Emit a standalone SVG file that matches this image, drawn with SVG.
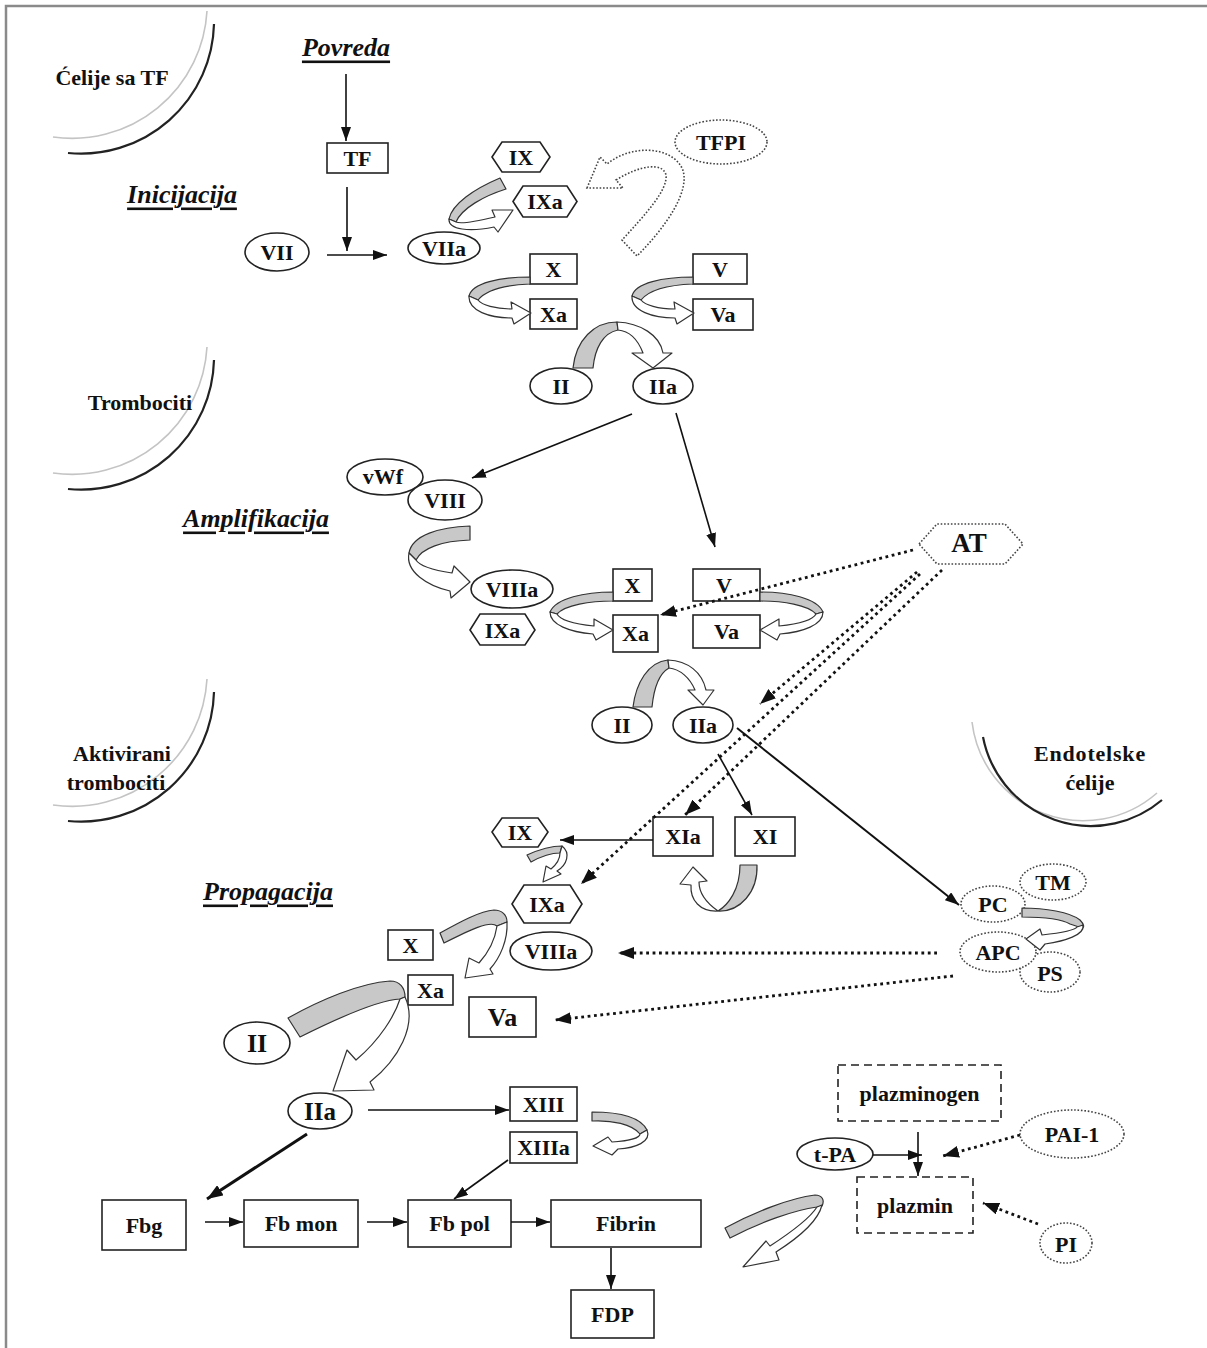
<svg xmlns="http://www.w3.org/2000/svg" width="1207" height="1348" viewBox="0 0 1207 1348">
<defs>
<style>
.t{font-family:"Liberation Serif","Times New Roman",serif;font-weight:bold;font-size:22px;fill:#111;text-anchor:middle;dominant-baseline:central}
.h{font-style:italic;font-size:26px;text-decoration:underline}
.box{fill:#fff;stroke:#222;stroke-width:1.6}
.dotn{fill:#fff;stroke:#444;stroke-width:1.6;stroke-dasharray:1.6 1.8}
.dash{fill:#fff;stroke:#222;stroke-width:1.6;stroke-dasharray:8 5}
.ln{stroke:#111;stroke-width:1.6;fill:none}
.dl{stroke:#111;stroke-width:2.8;stroke-dasharray:2.8 3.6;fill:none}
.rg{fill:#c8c8c8;stroke:#333;stroke-width:1.2;stroke-linejoin:round}
.rw{fill:#fff;stroke:#333;stroke-width:1.2;stroke-linejoin:round}
.arcL{fill:none;stroke:#c4c4c4;stroke-width:1.6}
.arcD{fill:none;stroke:#222;stroke-width:2.2}
</style>
<marker id="ah" viewBox="0 0 14 10" refX="14" refY="5" markerWidth="14" markerHeight="10" markerUnits="userSpaceOnUse" orient="auto"><path d="M0,0 L14,5 L0,10 Z" fill="#111"/></marker>
<marker id="ahd" viewBox="0 0 16 12" refX="16" refY="6" markerWidth="16" markerHeight="12" markerUnits="userSpaceOnUse" orient="auto"><path d="M0,0 L16,6 L0,12 Z" fill="#111"/></marker>
</defs>
<rect width="1207" height="1348" fill="#fff"/>
<g id="frame"><path d="M6,1348 V6 H1207" fill="none" stroke="#8a8a8a" stroke-width="2.5"/></g>

<g id="cells">
 <g id="cell-tf">
  <path class="arcL" d="M207,11 A135,135 0 0 1 53,137"/>
  <path class="arcD" d="M214,24 A133,133 0 0 1 68,153"/>
  <text class="t" x="112" y="77">Ćelije sa TF</text>
 </g>
 <g id="cell-trombociti">
  <path class="arcL" d="M207,347 A135,135 0 0 1 53,473"/>
  <path class="arcD" d="M214,360 A133,133 0 0 1 68,489"/>
  <text class="t" x="140" y="402">Trombociti</text>
 </g>
 <g id="cell-aktivirani">
  <path class="arcL" d="M207,679 A135,135 0 0 1 53,805"/>
  <path class="arcD" d="M214,692 A133,133 0 0 1 68,821"/>
  <text class="t" x="122" y="753">Aktivirani</text>
  <text class="t" x="116" y="782">trombociti</text>
 </g>
 <g id="cell-endotel">
  <path class="arcL" d="M972,722 A112,112 0 0 0 1157,793"/>
  <path class="arcD" d="M983,737 A110,110 0 0 0 1162,800"/>
  <text class="t" x="1090" y="753" style="letter-spacing:0.8px">Endotelske</text>
  <text class="t" x="1090" y="782">ćelije</text>
 </g>
</g>

<g id="headings">
 <text class="t h" x="346" y="47">Povreda</text>
 <text class="t h" x="182" y="194">Inicijacija</text>
 <text class="t h" x="256" y="518">Amplifikacija</text>
 <text class="t h" x="268" y="891">Propagacija</text>
</g>

<g id="nodes">
 <g id="n-TF"><rect class="box" x="327" y="143" width="61" height="30"/><text class="t" x="357.5" y="158">TF</text></g>
 <g id="n-VII"><ellipse class="box" cx="277" cy="252" rx="32" ry="19"/><text class="t" x="277" y="252">VII</text></g>
 <g id="n-VIIa"><ellipse class="box" cx="444" cy="248" rx="36" ry="16"/><text class="t" x="444" y="248">VIIa</text></g>
 <g id="n-IX1"><polygon class="box" points="492,157 502,142 540,142 550,157 540,172 502,172"/><text class="t" x="521" y="157">IX</text></g>
 <g id="n-IXa1"><polygon class="box" points="513,201.5 523,186 567,186 577,201.5 567,217 523,217"/><text class="t" x="545" y="201.5">IXa</text></g>
 <g id="n-TFPI"><ellipse class="dotn" cx="721" cy="142" rx="46" ry="22"/><text class="t" x="721" y="142">TFPI</text></g>
 <g id="n-TFPI-arrow"><path class="dotn" fill="none" style="fill:none" d="M587,188 L600,157 L607,164 C630,145 670,145 682,168 C692,190 665,228 637,256 L622,240 C645,215 668,190 666,175 C663,162 640,165 616,180 L623,188 Z"/></g>
 <g id="n-X1"><rect class="box" x="530" y="254" width="47" height="30"/><text class="t" x="553.5" y="269">X</text></g>
 <g id="n-Xa1"><rect class="box" x="530" y="299" width="47" height="30"/><text class="t" x="553.5" y="314">Xa</text></g>
 <g id="n-V1"><rect class="box" x="693" y="254" width="54" height="30"/><text class="t" x="720" y="269">V</text></g>
 <g id="n-Va1"><rect class="box" x="693" y="299" width="60" height="31"/><text class="t" x="723" y="314.5">Va</text></g>
 <g id="n-II1"><ellipse class="box" cx="561" cy="386" rx="31" ry="18"/><text class="t" x="561" y="386">II</text></g>
 <g id="n-IIa1"><ellipse class="box" cx="663" cy="386" rx="30" ry="18"/><text class="t" x="663" y="386">IIa</text></g>

 <g id="n-vWf"><ellipse class="box" cx="385" cy="477" rx="38" ry="18"/><text class="t" x="383" y="476">vWf</text></g>
 <g id="n-VIII"><ellipse class="box" cx="445" cy="500" rx="37" ry="20"/><text class="t" x="445" y="500">VIII</text></g>
 <g id="n-VIIIa1"><ellipse class="box" cx="512" cy="589" rx="41" ry="19"/><text class="t" x="512" y="589">VIIIa</text></g>
 <g id="n-IXa2"><polygon class="box" points="470,630 480,614 525,614 535,630 525,645 480,645"/><text class="t" x="502.5" y="630">IXa</text></g>
 <g id="n-X2"><rect class="box" x="613" y="569" width="39" height="32"/><text class="t" x="632.5" y="585">X</text></g>
 <g id="n-Xa2"><rect class="box" x="613" y="615" width="45" height="37"/><text class="t" x="635.5" y="633.5">Xa</text></g>
 <g id="n-V2"><rect class="box" x="693" y="569" width="67" height="32"/><text class="t" x="724" y="585">V</text></g>
 <g id="n-Va2"><rect class="box" x="693" y="615" width="67" height="33"/><text class="t" x="726.5" y="631.5">Va</text></g>
 <g id="n-AT"><polygon class="dotn" points="919,544 937,524 1005,524 1023,544 1005,564 937,564"/><text class="t" x="969" y="543" style="font-size:27px">AT</text></g>
 <g id="n-II2"><ellipse class="box" cx="622" cy="725" rx="30" ry="18"/><text class="t" x="622" y="725">II</text></g>
 <g id="n-IIa2"><ellipse class="box" cx="703" cy="725" rx="30" ry="18"/><text class="t" x="703" y="725">IIa</text></g>

 <g id="n-IX3"><polygon class="box" points="492,832 502,818 538,818 548,832 538,847 502,847"/><text class="t" x="520" y="832">IX</text></g>
 <g id="n-XIa"><rect class="box" x="653" y="817" width="60" height="39"/><text class="t" x="683" y="836.5">XIa</text></g>
 <g id="n-XI"><rect class="box" x="735" y="817" width="60" height="39"/><text class="t" x="765" y="836.5">XI</text></g>
 <g id="n-IXa3"><polygon class="box" points="512,904 524,885 570,885 582,904 570,923 524,923"/><text class="t" x="547" y="904">IXa</text></g>
 <g id="n-X3"><rect class="box" x="388" y="930" width="45" height="30"/><text class="t" x="410.5" y="945">X</text></g>
 <g id="n-VIIIa3"><ellipse class="box" cx="551" cy="951" rx="41" ry="19"/><text class="t" x="551" y="951">VIIIa</text></g>
 <g id="n-Xa3"><rect class="box" x="408" y="975" width="45" height="30"/><text class="t" x="430.5" y="990">Xa</text></g>
 <g id="n-Va3"><rect class="box" x="469" y="997" width="67" height="40"/><text class="t" x="502.5" y="1017" style="font-size:26px">Va</text></g>
 <g id="n-II3"><ellipse class="box" cx="257" cy="1043" rx="33" ry="21"/><text class="t" x="257" y="1043" style="font-size:26px">II</text></g>
 <g id="n-IIa3"><ellipse class="box" cx="320" cy="1111" rx="32" ry="18"/><text class="t" x="320" y="1111" style="font-size:25px">IIa</text></g>
 <g id="n-XIII"><rect class="box" x="510" y="1087" width="67" height="34"/><text class="t" x="543.5" y="1104">XIII</text></g>
 <g id="n-XIIIa"><rect class="box" x="510" y="1132" width="67" height="31"/><text class="t" x="543.5" y="1147.5">XIIIa</text></g>

 <g id="n-TM"><ellipse class="dotn" cx="1053" cy="882" rx="33" ry="18"/><text class="t" x="1053" y="882">TM</text></g>
 <g id="n-PS"><ellipse class="dotn" cx="1050" cy="972" rx="30" ry="20"/><text class="t" x="1050" y="973">PS</text></g>
 <g id="n-PC"><ellipse class="dotn" cx="993" cy="904" rx="32" ry="18"/><text class="t" x="993" y="904">PC</text></g>
 <g id="n-APC"><ellipse class="dotn" cx="998" cy="952" rx="38" ry="20"/><text class="t" x="998" y="952">APC</text></g>

 <g id="n-Fbg"><rect class="box" x="102" y="1200" width="84" height="50"/><text class="t" x="144" y="1225">Fbg</text></g>
 <g id="n-Fbmon"><rect class="box" x="244" y="1200" width="114" height="47"/><text class="t" x="301" y="1223">Fb mon</text></g>
 <g id="n-Fbpol"><rect class="box" x="408" y="1200" width="103" height="47"/><text class="t" x="459.5" y="1223">Fb pol</text></g>
 <g id="n-Fibrin"><rect class="box" x="551" y="1200" width="150" height="47"/><text class="t" x="626" y="1223">Fibrin</text></g>
 <g id="n-FDP"><rect class="box" x="571" y="1290" width="83" height="48"/><text class="t" x="612.5" y="1314">FDP</text></g>
 <g id="n-plazminogen"><rect class="dash" x="838" y="1065" width="163" height="56"/><text class="t" x="919.5" y="1093">plazminogen</text></g>
 <g id="n-plazmin"><rect class="dash" x="857" y="1177" width="116" height="56"/><text class="t" x="915" y="1205">plazmin</text></g>
 <g id="n-tPA"><ellipse class="box" cx="835" cy="1154" rx="38" ry="16"/><text class="t" x="835" y="1154">t-PA</text></g>
 <g id="n-PAI1"><ellipse class="dotn" cx="1072" cy="1134" rx="52" ry="24"/><text class="t" x="1072" y="1134">PAI-1</text></g>
 <g id="n-PI"><ellipse class="dotn" cx="1066" cy="1243" rx="26" ry="20"/><text class="t" x="1066" y="1244">PI</text></g>
</g>

<g id="connectors">
 <g id="ribbons">
  <path class="rg" d="M500,178 L506,189 C484,196 462,208 456,222 L449,219 C452,204 474,189 500,178 Z"/>
  <path class="rw" d="M449,219 C448,230 470,232 494,227 L498,232 L513,210 L492,210 L495,217 C474,222 460,224 456,222 Z"/>
  <g id="r-X1">
   <path class="rg" d="M530,277 C500,277 472,283 469,296 L478,300 C486,290 505,285 530,284 Z"/>
   <path class="rw" d="M469,296 C468,311 490,318 512,318 L514,324 L531,313 L511,302 L512,309 C495,309 482,305 478,300 Z"/>
  </g>
  <g transform="translate(163,0)">
   <path class="rg" d="M530,277 C500,277 472,283 469,296 L478,300 C486,290 505,285 530,284 Z"/>
   <path class="rw" d="M469,296 C468,311 490,318 512,318 L514,324 L531,313 L511,302 L512,309 C495,309 482,305 478,300 Z"/>
  </g>
  <path class="rg" d="M573,368 L593,368 C595,348 603,333 618,330 L617,322 C594,322 576,340 573,368 Z"/>
  <path class="rw" d="M617,322 C640,323 660,335 663,353 L672,353 L653,368 L632,353 L643,353 C638,340 630,331 618,330 Z"/>
  <path class="rg" d="M470,526 L470,540 C442,541 422,548 416,560 L409,553 C412,535 440,527 470,526 Z"/>
  <path class="rw" d="M409,553 C405,572 428,586 450,591 L451,598 L470,582 L454,566 L452,573 C432,570 419,565 416,560 Z"/>
  <g id="r-X2">
   <path class="rg" d="M613,592 C585,592 556,598 550,612 L557,614 C565,605 590,601 613,601 Z"/>
   <path class="rw" d="M550,612 C550,625 570,632 593,634 L596,640 L613,630 L594,619 L594,626 C575,624 560,620 557,614 Z"/>
  </g>
  <g transform="translate(1373,0) scale(-1,1)">
   <path class="rg" d="M613,592 C585,592 556,598 550,612 L557,614 C565,605 590,601 613,601 Z"/>
   <path class="rw" d="M550,612 C550,625 570,632 593,634 L596,640 L613,630 L594,619 L594,626 C575,624 560,620 557,614 Z"/>
  </g>
  <path class="rg" d="M633,707 L652,707 C654,687 660,673 669,668 L668,660 C648,662 636,683 633,707 Z"/>
  <path class="rw" d="M668,660 C688,661 702,672 706,690 L714,690 L703,705 L688,690 L695,690 C690,678 680,669 669,668 Z"/>
  <path class="rg" d="M527,855 L531,862 C540,857 552,853 560,853 L562,846 C550,846 538,850 527,855 Z"/>
  <path class="rw" d="M562,846 C571,853 567,865 557,871 L561,874 L543,882 L546,866 L551,869 C557,864 560,858 560,853 Z"/>
  <path class="rg" d="M740,865 L757,865 C758,892 740,912 718,911 C728,905 740,890 740,865 Z"/>
  <path class="rw" d="M718,911 C700,912 690,900 691,885 L680,884 L693,867 L707,881 L699,882 C699,895 708,904 718,911 Z"/>
  <path class="rg" d="M440,933 C460,922 480,911 494,910 C502,910 507,915 507,922 L497,926 C490,920 470,930 444,943 Z"/>
  <path class="rw" d="M507,922 C508,940 500,958 490,969 L493,974 L465,978 L469,958 L479,963 C488,953 495,940 497,926 Z"/>
  <path class="rg" d="M288,1018 C320,1000 360,983 390,981 C400,981 405,988 405,997 L400,999 C380,1000 340,1017 300,1037 Z"/>
  <path class="rw" d="M405,997 C418,1025 398,1060 370,1082 L374,1090 L333,1091 L347,1050 L356,1060 C380,1040 395,1015 400,999 Z"/>
  <path class="rg" d="M592,1112 C615,1112 640,1116 647,1130 L640,1134 C632,1124 612,1120 592,1121 Z"/>
  <path class="rw" d="M647,1130 C652,1142 635,1148 618,1149 L612,1155 L593,1146 L608,1137 L612,1142 C628,1141 640,1138 640,1134 Z"/>
  <path class="rg" d="M725,1228 C755,1212 790,1198 815,1195 C822,1195 825,1200 822,1206 L817,1207 C795,1210 760,1222 730,1238 Z"/>
  <path class="rw" d="M822,1205 C818,1222 798,1238 776,1252 L779,1260 L743,1267 L766,1241 L770,1246 C790,1233 810,1218 817,1207 Z"/>
  <path class="rg" d="M1022,908 C1045,908 1070,912 1080,920 C1085,925 1084,928 1082,928 L1070,924 C1060,918 1040,917 1022,917 Z"/>
  <path class="rw" d="M1083,925 C1085,935 1065,941 1045,944 L1040,950 L1026,939 L1040,929 L1042,935 C1060,933 1075,930 1077,927 Z"/>
 </g>
 <g id="solid">
  <path class="ln" d="M346,74 V141" marker-end="url(#ah)"/>
  <path class="ln" d="M347,187 V251" marker-end="url(#ah)"/>
  <path class="ln" d="M327,255 H387" marker-end="url(#ah)"/>
  <path class="ln" d="M632,414 L472,478" marker-end="url(#ah)"/>
  <path class="ln" d="M676,413 L715,547" marker-end="url(#ah)"/>
  <path class="ln" d="M718,754 L752,815" marker-end="url(#ah)"/>
  <path class="ln" style="stroke-width:2" d="M737,728 L959,905" marker-end="url(#ah)"/>
  <path class="ln" d="M653,840 H560" marker-end="url(#ah)"/>
  <path class="ln" d="M368,1110 H509" marker-end="url(#ah)"/>
  <path class="ln" style="stroke-width:3" d="M307,1134 L207,1199" marker-end="url(#ahd)"/>
  <path class="ln" d="M508,1160 L454,1199" marker-end="url(#ah)"/>
  <path class="ln" d="M205,1222 H243" marker-end="url(#ah)"/>
  <path class="ln" d="M367,1222 H407" marker-end="url(#ah)"/>
  <path class="ln" d="M511,1222 H550" marker-end="url(#ah)"/>
  <path class="ln" d="M611,1248 V1289" marker-end="url(#ah)"/>
  <path class="ln" d="M918,1132 V1176" marker-end="url(#ah)"/>
  <path class="ln" d="M873,1155 H922" marker-end="url(#ah)"/>
 </g>
 <g id="dotted">
  <path class="dl" d="M913,550 L660,615" marker-end="url(#ahd)"/>
  <path class="dl" d="M917,572 L760,704" marker-end="url(#ahd)"/>
  <path class="dl" d="M920,574 L581,884" marker-end="url(#ahd)"/>
  <path class="dl" d="M942,570 L685,815" marker-end="url(#ahd)"/>
  <path class="dl" d="M937,953 H618" marker-end="url(#ahd)"/>
  <path class="dl" d="M953,976 L555,1020" marker-end="url(#ahd)"/>
  <path class="dl" d="M1020,1135 L943,1156" marker-end="url(#ahd)"/>
  <path class="dl" d="M1038,1224 L983,1203" marker-end="url(#ahd)"/>
 </g>
</g>
</svg>
